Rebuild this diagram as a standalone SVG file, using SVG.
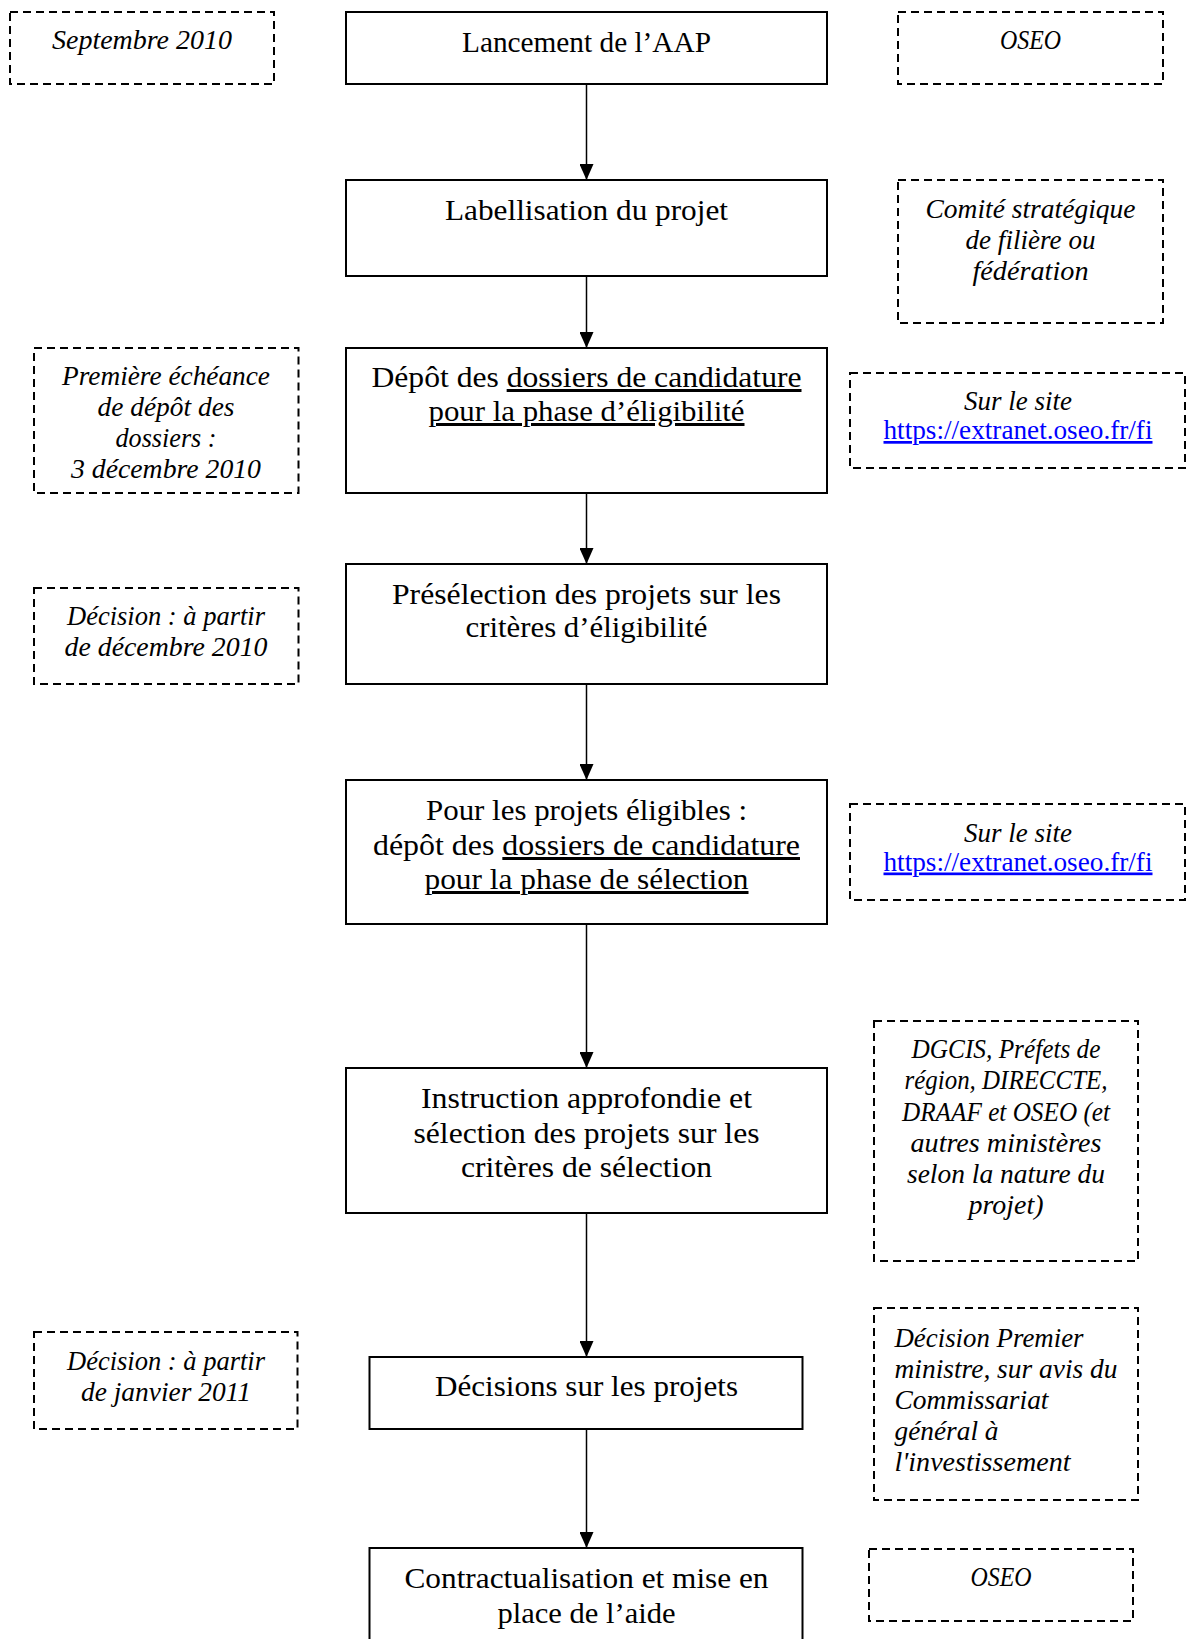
<svg xmlns="http://www.w3.org/2000/svg" width="1187" height="1639" viewBox="0 0 1187 1639">
<style>
.box{fill:#fff;stroke:#000;stroke-width:2}
.dash{fill:#fff;stroke:#000;stroke-width:2;stroke-dasharray:8 5}
.m{font-family:"Liberation Serif","Times New Roman",serif;font-size:30px;fill:#000;text-anchor:middle}
.i{font-family:"Liberation Serif","Times New Roman",serif;font-size:27.5px;font-style:italic;fill:#000;text-anchor:middle}
.il{font-family:"Liberation Serif","Times New Roman",serif;font-size:27.5px;font-style:italic;fill:#000;text-anchor:start}
.url{font-family:"Liberation Serif","Times New Roman",serif;font-size:27px;fill:#0000FF;text-anchor:middle;text-decoration:underline}
.u{text-decoration:underline}
.conn{stroke:#000;stroke-width:1.5;fill:none;marker-end:url(#ah)}
</style>
<defs>
<marker id="ah" markerUnits="userSpaceOnUse" markerWidth="16" markerHeight="14" refX="16" refY="7" orient="auto">
<path d="M0,0 L16,7 L0,14 z" fill="#000"/>
</marker>
</defs>
<rect width="1187" height="1639" fill="#fff"/>

<g id="connectors">
<line class="conn" x1="586.5" y1="84" x2="586.5" y2="180"/>
<line class="conn" x1="586.5" y1="276" x2="586.5" y2="348"/>
<line class="conn" x1="586.5" y1="493" x2="586.5" y2="564"/>
<line class="conn" x1="586.5" y1="684" x2="586.5" y2="780"/>
<line class="conn" x1="586.5" y1="924" x2="586.5" y2="1068"/>
<line class="conn" x1="586.5" y1="1213" x2="586.5" y2="1357"/>
<line class="conn" x1="586.5" y1="1429" x2="586.5" y2="1548"/>
</g>

<g id="n-lancement">
<rect class="box" x="346" y="12" width="481" height="72"/>
<text class="m" x="586.5" y="51.5" textLength="249" lengthAdjust="spacingAndGlyphs">Lancement de l’AAP</text>
</g>
<g id="n-labellisation">
<rect class="box" x="346" y="180" width="481" height="96"/>
<text class="m" x="586.5" y="219.5" textLength="283" lengthAdjust="spacingAndGlyphs">Labellisation du projet</text>
</g>
<g id="n-depot">
<rect class="box" x="346" y="348" width="481" height="145"/>
<text class="m" x="586.5" y="387" textLength="430" lengthAdjust="spacingAndGlyphs">Dépôt des <tspan class="u">dossiers de candidature</tspan></text>
<text class="m" x="586.5" y="421" textLength="316" lengthAdjust="spacingAndGlyphs"><tspan class="u">pour la phase d’éligibilité</tspan></text>
</g>
<g id="n-preselection">
<rect class="box" x="346" y="564" width="481" height="120"/>
<text class="m" x="586.5" y="604" textLength="389" lengthAdjust="spacingAndGlyphs">Présélection des projets sur les</text>
<text class="m" x="586.5" y="637" textLength="242" lengthAdjust="spacingAndGlyphs">critères d’éligibilité</text>
</g>
<g id="n-pour">
<rect class="box" x="346" y="780" width="481" height="144"/>
<text class="m" x="586.5" y="820" textLength="321" lengthAdjust="spacingAndGlyphs">Pour les projets éligibles :</text>
<text class="m" x="586.5" y="855" textLength="427" lengthAdjust="spacingAndGlyphs">dépôt des <tspan class="u">dossiers de candidature</tspan></text>
<text class="m" x="586.5" y="889" textLength="324" lengthAdjust="spacingAndGlyphs"><tspan class="u">pour la phase de sélection</tspan></text>
</g>
<g id="n-instruction">
<rect class="box" x="346" y="1068" width="481" height="145"/>
<text class="m" x="586.5" y="1108" textLength="331" lengthAdjust="spacingAndGlyphs">Instruction approfondie et</text>
<text class="m" x="586.5" y="1143" textLength="346" lengthAdjust="spacingAndGlyphs">sélection des projets sur les</text>
<text class="m" x="586.5" y="1177" textLength="251" lengthAdjust="spacingAndGlyphs">critères de sélection</text>
</g>
<g id="n-decisions">
<rect class="box" x="369.5" y="1357" width="433" height="72"/>
<text class="m" x="586.5" y="1396" textLength="303" lengthAdjust="spacingAndGlyphs">Décisions sur les projets</text>
</g>
<g id="n-contract">
<rect class="box" x="369.5" y="1548" width="433" height="100"/>
<text class="m" x="586.5" y="1588" textLength="364" lengthAdjust="spacingAndGlyphs">Contractualisation et mise en</text>
<text class="m" x="586.5" y="1623" textLength="178" lengthAdjust="spacingAndGlyphs">place de l’aide</text>
</g>

<g id="n-septembre">
<rect class="dash" x="10" y="12" width="264" height="72"/>
<text class="i" x="142" y="49" textLength="180" lengthAdjust="spacingAndGlyphs">Septembre 2010</text>
</g>
<g id="n-oseo1">
<rect class="dash" x="898" y="12" width="265" height="72"/>
<text class="i" x="1030.5" y="48.5" textLength="61" lengthAdjust="spacingAndGlyphs">OSEO</text>
</g>
<g id="n-comite">
<rect class="dash" x="898" y="180" width="265" height="143"/>
<text class="i" x="1030.5" y="218" textLength="210" lengthAdjust="spacingAndGlyphs">Comité stratégique</text>
<text class="i" x="1030.5" y="249" textLength="130" lengthAdjust="spacingAndGlyphs">de filière ou</text>
<text class="i" x="1030.5" y="280" textLength="116" lengthAdjust="spacingAndGlyphs">fédération</text>
</g>
<g id="n-premiere">
<rect class="dash" x="34" y="348" width="264.5" height="145"/>
<text class="i" x="166" y="385" textLength="208" lengthAdjust="spacingAndGlyphs">Première échéance</text>
<text class="i" x="166" y="416" textLength="137" lengthAdjust="spacingAndGlyphs">de dépôt des</text>
<text class="i" x="166" y="447" textLength="101" lengthAdjust="spacingAndGlyphs">dossiers :</text>
<text class="i" x="166" y="478" textLength="190" lengthAdjust="spacingAndGlyphs">3 décembre 2010</text>
</g>
<g id="n-site1">
<rect class="dash" x="850" y="373" width="335" height="95"/>
<text class="i" x="1018" y="410" textLength="108" lengthAdjust="spacingAndGlyphs">Sur le site</text>
<text class="url" x="1018" y="439" textLength="269" lengthAdjust="spacingAndGlyphs">https://extranet.oseo.fr/fi</text>
</g>
<g id="n-decision-dec">
<rect class="dash" x="34" y="588" width="264.5" height="96"/>
<text class="i" x="166" y="625" textLength="198" lengthAdjust="spacingAndGlyphs">Décision : à partir</text>
<text class="i" x="166" y="656" textLength="203" lengthAdjust="spacingAndGlyphs">de décembre 2010</text>
</g>
<g id="n-site2">
<rect class="dash" x="850" y="804" width="335" height="96"/>
<text class="i" x="1018" y="841.5" textLength="108" lengthAdjust="spacingAndGlyphs">Sur le site</text>
<text class="url" x="1018" y="870.5" textLength="269" lengthAdjust="spacingAndGlyphs">https://extranet.oseo.fr/fi</text>
</g>
<g id="n-dgcis">
<rect class="dash" x="874" y="1021" width="264" height="240"/>
<text class="i" x="1006" y="1058" textLength="189" lengthAdjust="spacingAndGlyphs">DGCIS, Préfets de</text>
<text class="i" x="1006" y="1089" textLength="203" lengthAdjust="spacingAndGlyphs">région, DIRECCTE,</text>
<text class="i" x="1006" y="1121" textLength="208" lengthAdjust="spacingAndGlyphs">DRAAF et OSEO (et</text>
<text class="i" x="1006" y="1152" textLength="191" lengthAdjust="spacingAndGlyphs">autres ministères</text>
<text class="i" x="1006" y="1183" textLength="198" lengthAdjust="spacingAndGlyphs">selon la nature du</text>
<text class="i" x="1006" y="1214" textLength="75" lengthAdjust="spacingAndGlyphs">projet)</text>
</g>
<g id="n-decision-janv">
<rect class="dash" x="34" y="1332" width="263.5" height="97"/>
<text class="i" x="166" y="1369.5" textLength="198" lengthAdjust="spacingAndGlyphs">Décision : à partir</text>
<text class="i" x="166" y="1400.5" textLength="170" lengthAdjust="spacingAndGlyphs">de janvier 2011</text>
</g>
<g id="n-decision-pm">
<rect class="dash" x="874" y="1308" width="264" height="192"/>
<text class="il" x="894.5" y="1347" textLength="189" lengthAdjust="spacingAndGlyphs">Décision Premier</text>
<text class="il" x="894.5" y="1378" textLength="223" lengthAdjust="spacingAndGlyphs">ministre, sur avis du</text>
<text class="il" x="894.5" y="1409" textLength="154" lengthAdjust="spacingAndGlyphs">Commissariat</text>
<text class="il" x="894.5" y="1440" textLength="104" lengthAdjust="spacingAndGlyphs">général à</text>
<text class="il" x="894.5" y="1471" textLength="176" lengthAdjust="spacingAndGlyphs">l'investissement</text>
</g>
<g id="n-oseo2">
<rect class="dash" x="869" y="1549" width="264" height="72"/>
<text class="i" x="1001" y="1585.5" textLength="61" lengthAdjust="spacingAndGlyphs">OSEO</text>
</g>
</svg>
